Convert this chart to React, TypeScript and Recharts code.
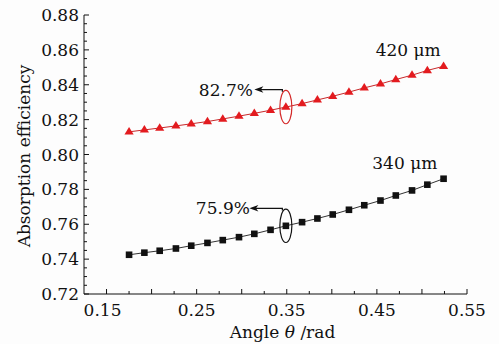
import React from "react";
import { LineChart, Line, XAxis, YAxis, ReferenceDot } from "recharts";

const angles = [0.175, 0.192, 0.209, 0.227, 0.244, 0.262, 0.279, 0.297, 0.314, 0.332, 0.349, 0.367, 0.384, 0.401, 0.419, 0.436, 0.454, 0.471, 0.489, 0.506, 0.524];
const eff420 = [0.8130, 0.8141, 0.8152, 0.8164, 0.8176, 0.8189, 0.8204, 0.8220, 0.8236, 0.8254, 0.8272, 0.8292, 0.8313, 0.8334, 0.8358, 0.8382, 0.8405, 0.8430, 0.8455, 0.8482, 0.8506];
const eff340 = [0.7425, 0.7437, 0.7448, 0.7461, 0.7477, 0.7493, 0.7509, 0.7526, 0.7545, 0.7568, 0.7591, 0.7612, 0.7633, 0.7656, 0.7683, 0.7709, 0.7736, 0.7765, 0.7794, 0.7827, 0.7861];

const xTicks = [0.125, 0.15, 0.175, 0.2, 0.225, 0.25, 0.275, 0.3, 0.325, 0.35, 0.375, 0.4, 0.425, 0.45, 0.475, 0.5, 0.525, 0.55];
const xMajorTicks = [0.15, 0.2, 0.25, 0.3, 0.35, 0.4, 0.45, 0.5, 0.55];
const xLabelTicks = ["0.15", "0.25", "0.35", "0.45", "0.55"];
const yTicks = [0.72, 0.725, 0.73, 0.735, 0.74, 0.745, 0.75, 0.755, 0.76, 0.765, 0.77, 0.775, 0.78, 0.785, 0.79, 0.795, 0.8, 0.805, 0.81, 0.815, 0.82, 0.825, 0.83, 0.835, 0.84, 0.845, 0.85, 0.855, 0.86, 0.865, 0.87, 0.875, 0.88];
const yLabelTicks = ["0.72", "0.74", "0.76", "0.78", "0.80", "0.82", "0.84", "0.86", "0.88"];

const seriesNames = ["420 μm", "340 μm"];
const seriesLabelPos = [{ x: 0.4847, y: 0.8598 }, { x: 0.481, y: 0.7952 }];
const annotAngle = 0.349;
const annotValues = [0.8272, 0.7591];
const annotTexts = ["82.7%", "75.9%"];

const data = angles.map((a, i) => ({ angle: a, e420: eff420[i], e340: eff340[i] }));

const FONT = "'DejaVu Serif', serif";
const RED = "#e31b1f";
const BLACK = "#111";

const XTick = (props: any) => {
  const { x, y, payload } = props;
  const v = payload.value as number;
  const isMajor = xMajorTicks.some((m) => Math.abs(m - v) < 1e-6);
  const lab = xLabelTicks.find((l) => Math.abs(parseFloat(l) - v) < 1e-6);
  if (Math.abs(v - 0.125) < 1e-6) return <g />;
  const shift = lab === "0.15" ? -4 : 0;
  return (
    <g>
      <line x1={x} x2={x} y1={y} y2={y - (isMajor ? 5 : 3)} stroke={BLACK} strokeWidth={1} />
      {lab && (
        <text x={x + shift} y={y + 22} textAnchor="middle" fontFamily={FONT} fontSize={17} fill={BLACK}>
          {lab}
        </text>
      )}
    </g>
  );
};

const YTick = (props: any) => {
  const { x, y, payload } = props;
  const v = payload.value as number;
  const axisX = x + 6;
  const lab = yLabelTicks.find((l) => Math.abs(parseFloat(l) - v) < 1e-6);
  return (
    <g>
      <line x1={axisX} x2={axisX + (lab ? 5 : 3)} y1={y} y2={y} stroke={BLACK} strokeWidth={1} />
      {lab && (
        <text x={axisX - 5} y={y} dy="0.36em" textAnchor="end" fontFamily={FONT} fontSize={17} fill={BLACK}>
          {lab}
        </text>
      )}
    </g>
  );
};

const XTitle = (props: any) => {
  const vb = props.viewBox || { x: 84, y: 294, width: 383, height: 50 };
  const cx = vb.x + vb.width / 2 + 7;
  return (
    <text x={cx} y={vb.y + 44} textAnchor="middle" fontFamily={FONT} fontSize={17} fill={BLACK}>
      Angle <tspan fontStyle="italic">θ</tspan> /rad
    </text>
  );
};

const YTitle = () => {
  const cy = 156;
  const cx = 24;
  return (
    <text x={cx} y={cy} dy="0.36em" textAnchor="middle" transform={`rotate(-90 ${cx} ${cy})`} fontFamily={FONT} fontSize={17} fill={BLACK}>
      Absorption efficiency
    </text>
  );
};

const TriangleDot = (props: any) => {
  const { cx, cy, index } = props;
  if (cx == null || cy == null) return <g key={`t${index}`} />;
  return (
    <polygon
      key={`t${index}`}
      points={`${cx},${cy - 4.8} ${cx - 4.6},${cy + 2.7} ${cx + 4.6},${cy + 2.7}`}
      fill={RED}
      stroke="none"
    />
  );
};

const SquareDot = (props: any) => {
  const { cx, cy, index } = props;
  if (cx == null || cy == null) return <g key={`s${index}`} />;
  return <rect key={`s${index}`} x={cx - 3.3} y={cy - 3.3} width={6.6} height={6.6} fill={BLACK} stroke="none" />;
};

const makeAnnot = (color: string, text: string, arrowLen: number, textDx: number) => (props: any) => {
  const { cx, cy } = props;
  if (cx == null || cy == null) return <g />;
  const rx = 6;
  const ry = 16.7;
  const ay = cy - ry - 0.8;
  const sx = cx - 3.5;
  const ex = sx - arrowLen;
  return (
    <g>
      <ellipse cx={cx} cy={cy} rx={rx} ry={ry} fill="none" stroke={color} strokeWidth={1.2} />
      <path d={`M${sx},${cy - ry + 1.5} L${sx},${ay} L${ex + 6},${ay}`} fill="none" stroke={BLACK} strokeWidth={1.2} />
      <path d={`M${ex},${ay} L${ex + 9},${ay - 3.2} L${ex + 6.5},${ay} L${ex + 9},${ay + 3.2} Z`} fill={BLACK} stroke="none" />
      <text x={cx + textDx} y={ay} dy="0.36em" textAnchor="middle" fontFamily={FONT} fontSize={17} fill={BLACK}>
        {text}
      </text>
    </g>
  );
};

const SeriesLabel = (text: string) => (props: any) => {
  const { cx, cy } = props;
  if (cx == null || cy == null) return <g />;
  return (
    <text x={cx} y={cy} dy="0.36em" textAnchor="middle" fontFamily={FONT} fontSize={17} fill={BLACK}>
      {text}
    </text>
  );
};

export default function App() {
  return (
    <div style={{ position: "absolute", left: 0, top: 0, width: 499, height: 344, background: "#fdfdfd" }}>
      <LineChart width={499} height={344} data={data} margin={{ top: 15, right: 32, bottom: 0, left: 0 }}>
        <XAxis
          dataKey="angle"
          type="number"
          domain={[0.125, 0.55]}
          ticks={xTicks}
          interval={0}
          tickSize={0}
          tickMargin={0}
          tick={<XTick />}
          height={50}
          axisLine={{ stroke: BLACK, strokeWidth: 1 }}
          tickLine={false}
          allowDataOverflow
          label={<XTitle />}
        />
        <YAxis
          type="number"
          domain={[0.72, 0.88]}
          ticks={yTicks}
          interval={0}
          tickSize={0}
          tickMargin={6}
          tick={<YTick />}
          width={84}
          axisLine={{ stroke: BLACK, strokeWidth: 1 }}
          tickLine={false}
          allowDataOverflow
          label={<YTitle />}
        />
        <Line dataKey="e420" stroke="#c8282a" strokeWidth={1} dot={TriangleDot} isAnimationActive={false} />
        <Line dataKey="e340" stroke="#333" strokeWidth={1} dot={SquareDot} isAnimationActive={false} />
        <ReferenceDot x={annotAngle} y={annotValues[0]} r={0} shape={makeAnnot("#d42a2a", annotTexts[0], 28, -60)} />
        <ReferenceDot x={annotAngle} y={annotValues[1]} r={0} shape={makeAnnot(BLACK, annotTexts[1], 33, -63)} />
        <ReferenceDot x={seriesLabelPos[0].x} y={seriesLabelPos[0].y} r={0} shape={SeriesLabel(seriesNames[0])} />
        <ReferenceDot x={seriesLabelPos[1].x} y={seriesLabelPos[1].y} r={0} shape={SeriesLabel(seriesNames[1])} />
      </LineChart>
    </div>
  );
}
